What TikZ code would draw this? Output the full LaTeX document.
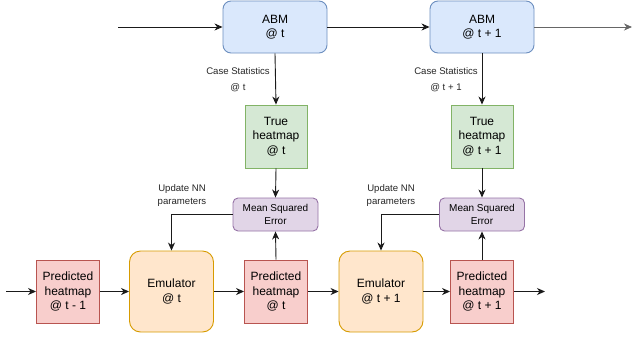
\documentclass[tikz,border=0pt]{standalone}
\usepackage{fontspec}
\setmainfont{Liberation Sans}
\usetikzlibrary{arrows.meta}

\definecolor{abmfill}{HTML}{DAE8FC}\definecolor{abmline}{HTML}{6C8EBF}
\definecolor{truefill}{HTML}{D5E8D4}\definecolor{trueline}{HTML}{82B366}
\definecolor{predfill}{HTML}{F8CECC}\definecolor{predline}{HTML}{B85450}
\definecolor{emufill}{HTML}{FFE6CC}\definecolor{emuline}{HTML}{D79B00}
\definecolor{msefill}{HTML}{E1D5E7}\definecolor{mseline}{HTML}{9673A6}
\definecolor{wire}{HTML}{1A1A1A}

\tikzset{
  box/.style={draw, line width=0.9pt, inner sep=0pt, align=center,
    font=\fontsize{12}{14.5}\selectfont},
  abmbox/.style={box, fill=abmfill, draw=abmline, rounded corners=8pt,
    minimum width=104pt, minimum height=52pt},
  truebox/.style={box, fill=truefill, draw=trueline,
    minimum width=62pt, minimum height=63pt},
  predbox/.style={box, fill=predfill, draw=predline,
    minimum width=63pt, minimum height=63pt},
  emubox/.style={box, fill=emufill, draw=emuline, rounded corners=11pt,
    minimum width=84pt, minimum height=81pt},
  msebox/.style={box, fill=msefill, draw=mseline, rounded corners=5pt,
    minimum width=85pt, minimum height=33pt,
    font=\fontsize{10}{13}\selectfont},
  wirelabel/.style={align=center, inner sep=0pt, text=black!85,
    font=\fontsize{9.6}{16}\selectfont},
  nnlabel/.style={align=center, inner sep=0pt, text=black!85,
    font=\fontsize{9.6}{13}\selectfont},
  flow/.style={draw=wire, line width=0.9pt,
    -{Stealth[length=8pt, width=7pt, inset=2.5pt]}},
}

\begin{document}
\begin{tikzpicture}[x=1pt, y=-1pt]
  \useasboundingbox (0,0) rectangle (632,338);

  % agent-based model steps
  \node[abmbox] (abm1) at (275,27) {ABM\\@ t};
  \node[abmbox] (abm2) at (482,27) {ABM\\@ t + 1};

  % ground-truth heatmaps
  \node[truebox] (true1) at (276,136.5) {True\\heatmap\\@ t};
  \node[truebox] (true2) at (482,136.5) {True\\heatmap\\@ t + 1};

  % losses
  \node[msebox] (mse1) at (275.5,214.5) {Mean Squared\\Error};
  \node[msebox] (mse2) at (482,214.5) {Mean Squared\\Error};

  % emulator chain
  \node[predbox] (pred0) at (68,291.5) {Predicted\\heatmap\\@ t - 1};
  \node[emubox] (emu1) at (171.5,291.5) {Emulator\\@ t};
  \node[predbox] (pred1) at (276,291.5) {Predicted\\heatmap\\@ t};
  \node[emubox] (emu2) at (381,291.5) {Emulator\\@ t + 1};
  \node[predbox] (pred2) at (482,291.5) {Predicted\\heatmap\\@ t + 1};

  % free ends
  \coordinate (abmin) at (118,27);
  \coordinate (abmout) at (632,27);
  \coordinate (predin) at (6,291.5);
  \coordinate (predout) at (545,291.5);

  % labels
  \node[wirelabel] (cs1) at (238,80) {Case Statistics\\@ t};
  \node[wirelabel] (cs2) at (446,80) {Case Statistics\\@ t + 1};
  \node[nnlabel] (nn1) at (182,195.5) {Update NN\\parameters};
  \node[nnlabel] (nn2) at (391,195.5) {Update NN\\parameters};

  % top row
  \draw[flow] (abmin) -- (abm1.west);
  \draw[flow] (abm1.east) -- (abm2.west);
  \draw[flow, draw=black!60] (abm2.east) -- (abmout);

  % ABM to ground truth to loss
  \draw[flow] (abm1.south) -- (true1.north);
  \draw[flow] (abm2.south) -- (true2.north);
  \draw[flow] (true1.south) -- (mse1.north);
  \draw[flow] (true2.south) -- (mse2.north);

  % predictions to loss, loss back to emulator
  \draw[flow] (pred1.north) -- (mse1.south);
  \draw[flow] (pred2.north) -- (mse2.south);
  \draw[flow] (mse1.west) -| (emu1.north);
  \draw[flow] (mse2.west) -| (emu2.north);

  % bottom row
  \draw[flow] (predin) -- (pred0.west);
  \draw[flow] (pred0.east) -- (emu1.west);
  \draw[flow] (emu1.east) -- (pred1.west);
  \draw[flow] (pred1.east) -- (emu2.west);
  \draw[flow] (emu2.east) -- (pred2.west);
  \draw[flow] (pred2.east) -- (predout);
\end{tikzpicture}
\end{document}
